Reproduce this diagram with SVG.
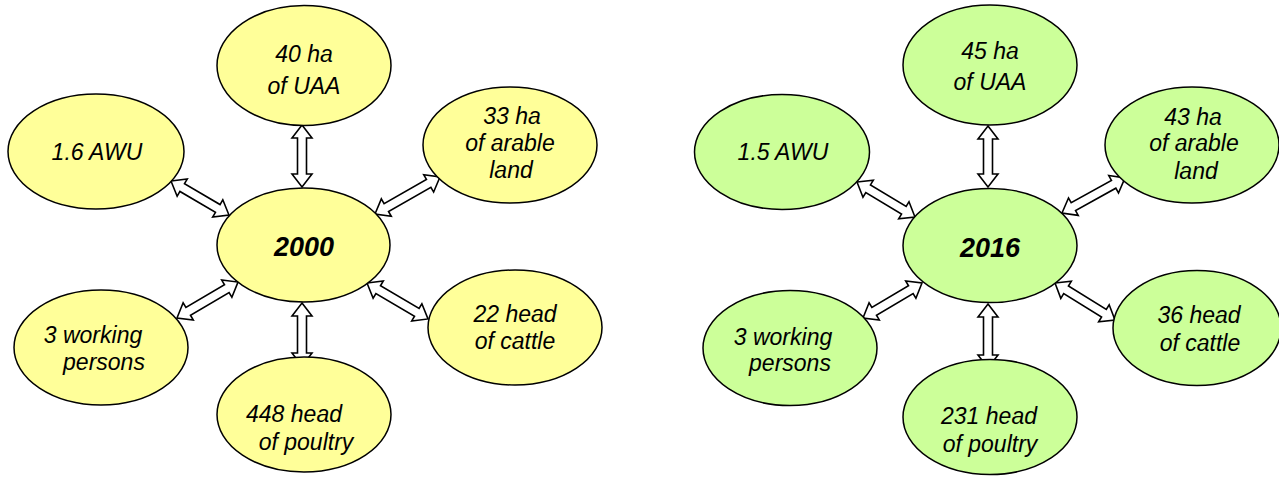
<svg xmlns="http://www.w3.org/2000/svg" width="1279" height="477" viewBox="0 0 1279 477">
<style>
.y{fill:#FFFF99;stroke:#000;stroke-width:1.5}
.g{fill:#CCFF99;stroke:#000;stroke-width:1.5}
.a{fill:#fff;stroke:#000;stroke-width:1.6;stroke-linejoin:miter}
text{font-family:"Liberation Sans",Arial,sans-serif;font-style:italic;font-size:23px;text-anchor:middle;fill:#000}
.big{font-size:27px;font-weight:bold}
</style>
<rect width="1279" height="477" fill="#fff"/>
<g id="connectors">
<path class="a" transform="translate(302,125) rotate(90)" d="M0,0L13,-10L13,-4.5L49,-4.5L49,-10L62,0L49,10L49,4.5L13,4.5L13,10Z"/>
<path class="a" transform="translate(171,181) rotate(30.4)" d="M0,0L13,-10L13,-4.5L54.2,-4.5L54.2,-10L67.2,0L54.2,10L54.2,4.5L13,4.5L13,10Z"/>
<path class="a" transform="translate(375,214) rotate(-29.7)" d="M0,0L13,-10L13,-4.5L61.8,-4.5L61.8,-10L74.8,0L61.8,10L61.8,4.5L13,4.5L13,10Z"/>
<path class="a" transform="translate(177,318) rotate(-30.5)" d="M0,0L13,-10L13,-4.5L57.8,-4.5L57.8,-10L70.8,0L57.8,10L57.8,4.5L13,4.5L13,10Z"/>
<path class="a" transform="translate(367,283) rotate(30.5)" d="M0,0L13,-10L13,-4.5L57.8,-4.5L57.8,-10L70.8,0L57.8,10L57.8,4.5L13,4.5L13,10Z"/>
<path class="a" transform="translate(302,303) rotate(90)" d="M0,0L13,-10L13,-4.5L50,-4.5L50,-10L63,0L50,10L50,4.5L13,4.5L13,10Z"/>
<path class="a" transform="translate(988,126) rotate(90)" d="M0,0L13,-10L13,-4.5L48,-4.5L48,-10L61,0L48,10L48,4.5L13,4.5L13,10Z"/>
<path class="a" transform="translate(857,182) rotate(31.1)" d="M0,0L13,-10L13,-4.5L54.7,-4.5L54.7,-10L67.7,0L54.7,10L54.7,4.5L13,4.5L13,10Z"/>
<path class="a" transform="translate(1062,213) rotate(-29.1)" d="M0,0L13,-10L13,-4.5L59.1,-4.5L59.1,-10L72.1,0L59.1,10L59.1,4.5L13,4.5L13,10Z"/>
<path class="a" transform="translate(863,318) rotate(-30.7)" d="M0,0L13,-10L13,-4.5L55.6,-4.5L55.6,-10L68.6,0L55.6,10L55.6,4.5L13,4.5L13,10Z"/>
<path class="a" transform="translate(1055,283) rotate(31.7)" d="M0,0L13,-10L13,-4.5L57.5,-4.5L57.5,-10L70.5,0L57.5,10L57.5,4.5L13,4.5L13,10Z"/>
<path class="a" transform="translate(988,304) rotate(90)" d="M0,0L13,-10L13,-4.5L51,-4.5L51,-10L64,0L51,10L51,4.5L13,4.5L13,10Z"/>
</g>
<g id="n2000"><ellipse class="y" cx="303.5" cy="245" rx="86.5" ry="57"/><text class="big" x="304" y="256">2000</text></g>
<g id="n40ha"><ellipse class="y" cx="304" cy="65.5" rx="87" ry="60"/><text x="304" y="62">40 ha</text><text x="304" y="94">of UAA</text></g>
<g id="n16awu"><ellipse class="y" cx="96" cy="151.5" rx="88" ry="57.5"/><text x="97" y="160">1.6 AWU</text></g>
<g id="n33ha"><ellipse class="y" cx="510" cy="145" rx="87" ry="58"/><text x="512" y="124">33 ha</text><text x="510" y="151">of arable</text><text x="511" y="178">land</text></g>
<g id="n22cattle"><ellipse class="y" cx="515" cy="327.5" rx="87" ry="57.5"/><text x="515" y="322">22 head</text><text x="515" y="349">of cattle</text></g>
<g id="n3workL"><ellipse class="y" cx="101" cy="347.5" rx="87" ry="57.5"/><text x="93" y="343">3 working</text><text x="104" y="370">persons</text></g>
<g id="n448poultry"><ellipse class="y" cx="304" cy="414.5" rx="87" ry="57.5"/><text x="294" y="422">448 head</text><text x="306" y="450">of poultry</text></g>
<g id="n2016"><ellipse class="g" cx="990" cy="245.5" rx="87" ry="57"/><text class="big" x="990" y="257">2016</text></g>
<g id="n45ha"><ellipse class="g" cx="990" cy="65" rx="87" ry="60"/><text x="990" y="59">45 ha</text><text x="990" y="90">of UAA</text></g>
<g id="n15awu"><ellipse class="g" cx="782" cy="152" rx="87.5" ry="57.5"/><text x="783" y="160">1.5 AWU</text></g>
<g id="n43ha"><ellipse class="g" cx="1192" cy="145" rx="87" ry="58"/><text x="1193" y="125">43 ha</text><text x="1194" y="151">of arable</text><text x="1196" y="179">land</text></g>
<g id="n36cattle"><ellipse class="g" cx="1197" cy="328" rx="84" ry="57.5"/><text x="1199" y="323">36 head</text><text x="1200" y="351">of cattle</text></g>
<g id="n3workR"><ellipse class="g" cx="790" cy="348" rx="87" ry="57.5"/><text x="783" y="345">3 working</text><text x="790" y="371">persons</text></g>
<g id="n231poultry"><ellipse class="g" cx="990" cy="417" rx="87" ry="57.5"/><text x="989" y="424">231 head</text><text x="990" y="452">of poultry</text></g>
</svg>
